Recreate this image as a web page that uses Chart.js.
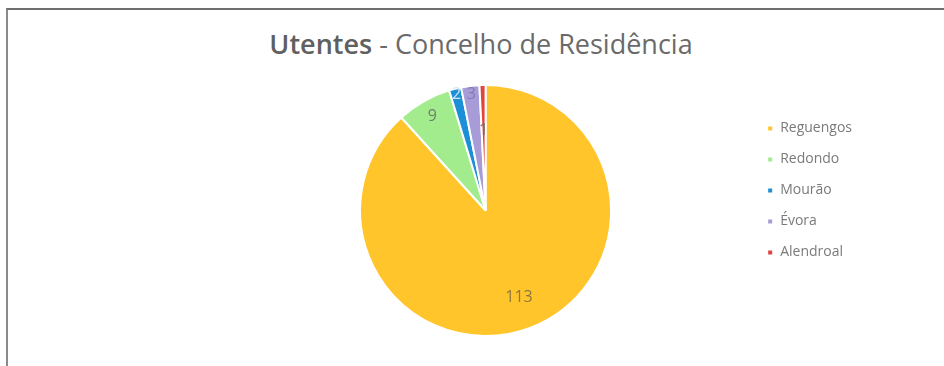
<!DOCTYPE html>
<html>
<head>
<meta charset="utf-8">
<script src="https://cdn.jsdelivr.net/npm/chart.js@4/dist/chart.umd.min.js"></script>
<style>
    html, body { margin: 0; padding: 0; background: #fff; }
    body { width: 944px; height: 366px; position: relative; overflow: hidden; }
    .frame {
        position: absolute; left: 6px; top: 8px; width: 960px; height: 380px;
        border-left: 2px solid #8a8a8a; border-top: 2px solid #6e6e6e;
    }
    .title {
        position: absolute; left: 0; top: 25px; width: 962px; text-align: center;
        font-family: "Open Sans", sans-serif; font-size: 27px; color: #6a6a6a;
    }
    .title b { font-weight: 600; color: #606060; }
    #pie { position: absolute; left: 0; top: 0; }
</style>
</head>
<body>
<div class="frame"></div>
<div class="title"><b>Utentes</b> - Concelho de Residência</div>
<canvas id="pie" width="944" height="366"></canvas>
<script>
const municipalities = ["Reguengos", "Redondo", "Mourão", "Évora", "Alendroal"];
const patients = [113, 9, 2, 3, 1];
const sliceColors = ["#FFC52B", "#A3EC8E", "#1D8FD6", "#A89CD8", "#DE4440"];

// where each value label sits along its slice, as a share of the radius
const labelDepth = [0.74, 0.86, 0.95, 0.93, 0.64];
const labelColors = ["#8c7a3c", "#6f806a", "#cfe6f5", "#8479b4", "#6b6b6b"];

const sliceLabels = {
    id: "sliceLabels",
    afterDatasetsDraw(chart) {
        const ctx = chart.ctx;
        const arcs = chart.getDatasetMeta(0).data;
        ctx.save();
        ctx.font = "16px 'Open Sans', sans-serif";
        ctx.textAlign = "center";
        ctx.textBaseline = "middle";
        arcs.forEach((arc, i) => {
            const p = arc.getProps(["x", "y", "startAngle", "endAngle", "outerRadius"], true);
            const mid = (p.startAngle + p.endAngle) / 2;
            const r = p.outerRadius * labelDepth[i];
            ctx.fillStyle = labelColors[i];
            ctx.fillText(String(patients[i]), p.x + Math.cos(mid) * r, p.y + Math.sin(mid) * r);
        });
        ctx.restore();
    }
};

new Chart(document.getElementById("pie"), {
    type: "pie",
    data: {
        labels: municipalities,
        datasets: [{
            data: patients,
            backgroundColor: sliceColors,
            borderColor: "#ffffff",
            borderWidth: 2
        }]
    },
    options: {
        responsive: false,
        animation: false,
        layout: {
            padding: { top: 84, bottom: 29, left: 221, right: 82 }
        },
        plugins: {
            tooltip: { enabled: false },
            legend: {
                position: "right",
                align: "start",
                title: {
                    display: true,
                    text: "",
                    padding: 3
                },
                labels: {
                    boxWidth: 6,
                    boxHeight: 6,
                    padding: 17,
                    color: "#7a7a7a",
                    font: { family: "'Open Sans', sans-serif", size: 14 }
                }
            }
        }
    },
    plugins: [sliceLabels]
});
</script>
</body>
</html>
